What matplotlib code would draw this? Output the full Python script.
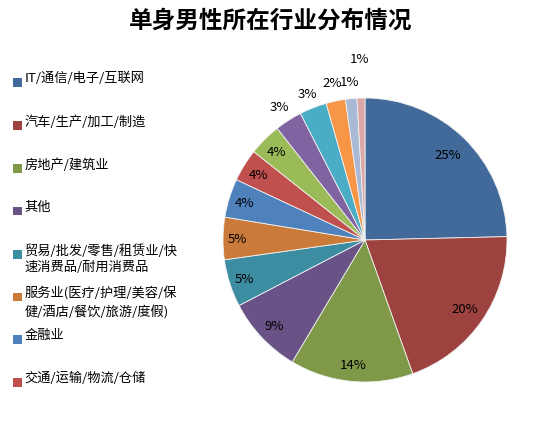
import numpy as np
import matplotlib
matplotlib.use("Agg")
import matplotlib.pyplot as plt
from matplotlib.patches import Rectangle

plt.rcParams['font.family'] = ['Noto Sans CJK SC', 'DejaVu Sans']

title = "单身男性所在行业分布情况"
categories = [
    "IT/通信/电子/互联网",
    "汽车/生产/加工/制造",
    "房地产/建筑业",
    "其他",
    "贸易/批发/零售/租赁业/快\n速消费品/耐用消费品",
    "服务业(医疗/护理/美容/保\n健/酒店/餐饮/旅游/度假)",
    "金融业",
    "交通/运输/物流/仓储",
]
values = [24.6, 19.9, 14.0, 8.8, 5.4, 4.8, 4.4, 3.7, 3.7, 3.1, 3.1, 2.2, 1.3, 0.9]
colors = ["#416A9B", "#9D423F", "#7F9949", "#695285", "#3D8DA2", "#CB7B39",
          "#4F81BD", "#C0504D", "#9BBB59", "#8064A2", "#4BACC6", "#F79646",
          "#A9B9D6", "#DBA8A7"]
label_dist = [0.84, 0.85, 0.88, 0.88, 0.89, 0.90, 0.89, 0.88, 0.88,
              1.12, 1.11, 1.13, 1.12, 1.28]

W, H = 541, 439
fig = plt.figure(figsize=(W / 100, H / 100), dpi=100)
fig.patch.set_facecolor("white")

cx, cy, R = 365, 241, 142
ax = fig.add_axes([(cx - R) / W, (H - cy - R) / H, 2 * R / W, 2 * R / H])
wedges, _ = ax.pie(values, colors=colors, startangle=90, counterclock=False,
                   radius=1.0, wedgeprops=dict(edgecolor="#F2F2F2", linewidth=0.6))
ax.set_xlim(-1, 1)
ax.set_ylim(-1, 1)
ax.set_aspect("equal")
ax.axis("off")

total = sum(values)
for w, v, d in zip(wedges, values, label_dist):
    ang = np.deg2rad((w.theta1 + w.theta2) / 2)
    ax.text(d * np.cos(ang), d * np.sin(ang), f"{100 * v / total:.0f}%",
            ha="center", va="center", fontsize=9.5, color="black", clip_on=False)

fig.text(271 / W, 1 - 21 / H, title, ha="center", va="center",
         fontsize=17, fontweight="bold")

# legend
ys = [80, 123, 166, 208.5, 252, 294.5, 337, 380]
for i, (lab, yc) in enumerate(zip(categories, ys)):
    fig.text(24.5 / W, 1 - (yc - 8) / H, lab, ha="left", va="top",
             fontsize=9.5, linespacing=1.32)
    fig.patches.append(Rectangle((13.3 / W, 1 - (yc + 7.5) / H), 8.4 / W, 8.4 / H,
                                 transform=fig.transFigure, facecolor=colors[i],
                                 edgecolor="none"))

fig.savefig("out.png", dpi=100, facecolor="white")
